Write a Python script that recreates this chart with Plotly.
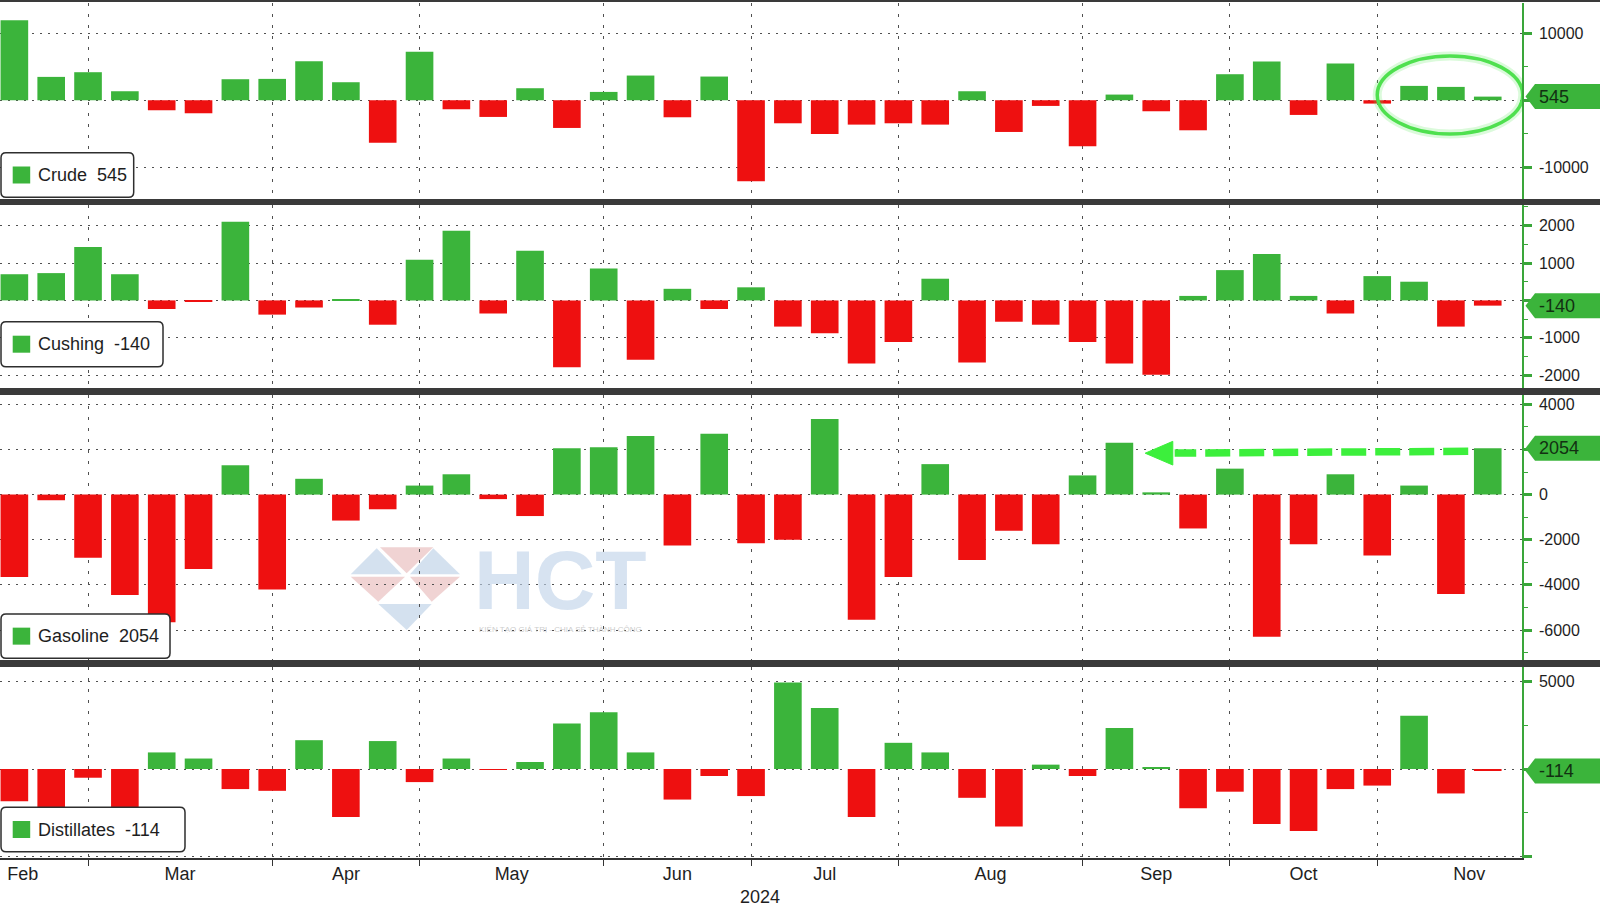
import pandas as pd
import plotly.graph_objects as go
from plotly.subplots import make_subplots

# ---------------- data (weekly EIA inventory changes, thousand barrels) ----------------
week_end = pd.date_range("2024-02-09", periods=41, freq="W-FRI")

crude = [12000, 3500, 4200, 1350, -1500, -1950, 3150, 3200, 5850, 2700,
         -6350, 7250, -1350, -2500, 1800, -4150, 1250, 3700, -2550, 3550,
         -12150, -3450, -5050, -3650, -3450, -3650, 1350, -4750, -850, -6900,
         850, -1650, -4500, 3900, 5800, -2200, 5500, -500, 2150, 2000, 545]

cushing = [700, 730, 1430, 700, -230, -40, 2100, -380, -190, 30,
           -650, 1090, 1860, -350, 1330, -1790, 850, -1590, 310, -230,
           350, -700, -880, -1690, -1110, 580, -1660, -570, -650, -1110,
           -1690, -1990, 120, 810, 1240, 120, -350, 650, 500, -700, -140]

gasoline = [-3650, -250, -2800, -4450, -5650, -3300, 1300, -4200, 700, -1150,
            -650, 400, 900, -200, -950, 2050, 2100, 2600, -2250, 2700,
            -2150, -2000, 3350, -5550, -3650, 1350, -2900, -1600, -2200, 850,
            2300, 100, -1500, 1150, -6300, -2200, 900, -2700, 400, -4400, 2054]

distillates = [-1850, -4000, -500, -4150, 950, 600, -1150, -1250, 1650, -2750,
               1600, -750, 600, -50, 400, 2600, 3250, 950, -1750, -400,
               -1550, 4950, 3500, -2750, 1500, 950, -1650, -3300, 250, -400,
               2350, 100, -2250, -1300, -3150, -3550, -1150, -950, 3050, -1400, -114]

series_names = ["Crude", "Cushing", "Gasoline", "Distillates"]
series_vals = [crude, cushing, gasoline, distillates]

tick_vals = [[-10000, 0, 10000],
             [-2000, -1000, 0, 1000, 2000],
             [-6000, -4000, -2000, 0, 2000, 4000],
             [-5000, 0, 5000]]
tick_text = [["-10000", "", "10000"],
             ["-2000", "-1000", "", "1000", "2000"],
             ["-6000", "-4000", "-2000", "0", "", "4000"],
             ["", "", "5000"]]
minor_dtick = [5000, 500, 1000, 2500]
year_label = "2024"
arrow_target_week = 30  # gasoline: week the arrow points back to

# ---------------- styling / layout constants ----------------
GREEN = "#3bb43b"
RED = "#ee1010"
AX_GREEN = "#3aa63a"
GRID = "#505050"
FONT = "Liberation Sans, Arial, sans-serif"
W, H = 1600, 906
PLOT_R = 1522
PLOT_T, PLOT_B = 3, 858
PANEL_PX = [(3, 199), (205, 388), (395, 660), (667, 858)]
Y_RANGES = [(-14794, 14569), (-2342, 2551), (-7328, 4413), (-5097, 5842)]
LEGEND_PX = [(1, 133.7, 152.7, 197.3), (1, 163, 321.7, 366.7),
             (1, 170, 614, 658.3), (1, 185, 807.3, 851.7)]
X_RANGE = [-0.39, 40.93]
LABEL_EDGE_PAD = 0.62  # keep month labels this far inside the left edge


def pxx(p):
    return p / PLOT_R


def pxy(p):
    return (PLOT_B - p) / (PLOT_B - PLOT_T)


def val_to_px(k, v):
    top, bot = PANEL_PX[k]
    lo, hi = Y_RANGES[k]
    return top + (hi - v) / (hi - lo) * (bot - top)


def round_rect(x0, x1, y0, y1, r=5):
    pts = [
        ("M", x0 + r, y0), ("L", x1 - r, y0), ("Q", x1, y0, x1, y0 + r),
        ("L", x1, y1 - r), ("Q", x1, y1, x1 - r, y1), ("L", x0 + r, y1),
        ("Q", x0, y1, x0, y1 - r), ("L", x0, y0 + r), ("Q", x0, y0, x0 + r, y0),
    ]
    s = ""
    for p in pts:
        if p[0] == "Q":
            s += f"Q{pxx(p[1]):.5f},{pxy(p[2]):.5f} {pxx(p[3]):.5f},{pxy(p[4]):.5f} "
        else:
            s += f"{p[0]}{pxx(p[1]):.5f},{pxy(p[2]):.5f} "
    return s + "Z"


def poly(points):
    s = "M" + " L".join(f"{pxx(x):.5f},{pxy(y):.5f}" for x, y in points)
    return s + " Z"


# x positions (weekly index) and month gridlines / labels
n = len(week_end)
xi = list(range(n))
all_fri = pd.date_range("2024-01-05", "2024-12-27", freq="W-FRI")
pos = pd.Series([(d - week_end[0]).days // 7 for d in all_fri], index=all_fri)
month_end = pos.groupby([pos.index.year, pos.index.month]).max()
month_names = [pd.Timestamp(year=y, month=m, day=1).strftime("%b") for (y, m) in month_end.index]
grid_pos = [int(p) for p in month_end.values if X_RANGE[0] < p < X_RANGE[1]]
label_pos, label_txt = [], []
me = list(month_end.values)
for i in range(1, len(me)):
    mid = (me[i - 1] + me[i]) / 2
    if X_RANGE[0] <= mid <= X_RANGE[1]:
        label_pos.append(max(mid, X_RANGE[0] + LABEL_EDGE_PAD))
        label_txt.append(month_names[i])

# ---------------- figure ----------------
fig = make_subplots(rows=4, cols=1, shared_xaxes=True, vertical_spacing=0.01)

for k, vals in enumerate(series_vals):
    fig.add_trace(go.Bar(
        x=xi, y=vals, width=0.75,
        marker=dict(color=[GREEN if v >= 0 else RED for v in vals], line=dict(width=0)),
        showlegend=False, hoverinfo="skip"), row=k + 1, col=1)

for k in range(4):
    top, bot = PANEL_PX[k]
    yname = "yaxis" if k == 0 else f"yaxis{k + 1}"
    fig.layout[yname].update(
        domain=[pxy(bot), pxy(top)], range=list(Y_RANGES[k]), side="right",
        tickmode="array", tickvals=tick_vals[k], ticktext=tick_text[k],
        ticks="outside", ticklen=8, tickwidth=2.5, tickcolor=AX_GREEN,
        showline=True, linecolor=AX_GREEN, linewidth=1.5,
        showgrid=True, gridcolor=GRID, griddash="2px,6px", gridwidth=1.2,
        zeroline=False, ticklabelstandoff=4, automargin=False,
        tickfont=dict(family=FONT, size=16, color="#1e1e1e"),
        minor=dict(dtick=minor_dtick[k], tick0=0, ticks="outside", ticklen=4,
                   tickwidth=1, tickcolor=AX_GREEN, showgrid=False),
        fixedrange=True)
    xname = "xaxis" if k == 0 else f"xaxis{k + 1}"
    if k < 3:
        fig.layout[xname].update(
            range=X_RANGE, tickmode="array", tickvals=grid_pos, showticklabels=False,
            ticks="", showgrid=True, gridcolor=GRID, griddash="3px,8px", gridwidth=1.2,
            zeroline=False, showline=False)
    else:
        fig.layout[xname].update(
            range=X_RANGE, tickmode="array", tickvals=label_pos, ticktext=label_txt,
            ticks="", showgrid=False, zeroline=False, automargin=False,
            showline=True, linecolor="#333333", linewidth=1.5,
            ticklabeloverflow="allow",
            tickfont=dict(family=FONT, size=18, color="#1e1e1e"), ticklabelstandoff=-1,
            minor=dict(tickmode="array", tickvals=grid_pos, ticks="outside", ticklen=6,
                       tickcolor="#333333", tickwidth=1.2, showgrid=True,
                       gridcolor=GRID, griddash="3px,8px", gridwidth=1.2))

shapes = []
annotations = []

# watermark (below everything)
wm_blue = "rgba(170,196,224,0.5)"
wm_pink = "rgba(226,168,168,0.5)"
for pts, col in [
    ([(350.7, 574.3), (376.7, 548.3), (401.7, 574.3)], wm_blue),
    ([(380, 547.3), (433.3, 547.3), (406.7, 573.3)], wm_pink),
    ([(410, 574.3), (460, 574.3), (433.3, 548.3)], wm_blue),
    ([(350.7, 576.7), (405, 576.7), (378.3, 601.7)], wm_pink),
    ([(410, 576.7), (460, 576.7), (431.7, 601.7)], wm_pink),
    ([(378.3, 604), (431.7, 604), (406.7, 630)], wm_blue),
]:
    shapes.append(dict(type="path", xref="paper", yref="paper", path=poly(pts),
                       fillcolor=col, line=dict(width=0), layer="below"))
annotations.append(dict(x=pxx(560), y=pxy(580), xref="paper", yref="paper", text="<b>HCT</b>",
                        xanchor="center", yanchor="middle", showarrow=False,
                        font=dict(family="Liberation Sans, Arial", size=84,
                                  color="rgba(190,210,232,0.62)")))
annotations.append(dict(x=pxx(560), y=pxy(629), xref="paper", yref="paper",
                        text="KIẾN TẠO GIÁ TRỊ - CHIA SẺ THÀNH CÔNG", showarrow=False,
                        xanchor="center", yanchor="middle",
                        font=dict(family=FONT, size=8, color="rgba(190,190,190,0.8)")))

# panel separators and top rule
for y0, y1 in [(199, 205), (388, 395), (660, 667)]:
    shapes.append(dict(type="rect", xref="paper", yref="paper", x0=0, x1=pxx(W),
                       y0=pxy(y1), y1=pxy(y0), fillcolor="#3a3a3a", line=dict(width=0),
                       layer="above"))
shapes.append(dict(type="rect", xref="paper", yref="paper", x0=0, x1=pxx(W),
                   y0=pxy(2), y1=pxy(0), fillcolor="#3a3a3a", line=dict(width=0)))

# legends and value boxes
for k in range(4):
    name = series_names[k]
    last = series_vals[k][-1]
    x0, x1, y0, y1 = LEGEND_PX[k]
    shapes.append(dict(type="path", xref="paper", yref="paper",
                       path=round_rect(x0, x1, y0, y1, 5), fillcolor="white",
                       line=dict(color="#2e2e2e", width=1.5), layer="above"))
    cy = (y0 + y1) / 2
    shapes.append(dict(type="rect", xref="paper", yref="paper", x0=pxx(12.7), x1=pxx(30.2),
                       y0=pxy(cy + 8.5), y1=pxy(cy - 8.5), fillcolor=GREEN,
                       line=dict(width=0), layer="above"))
    annotations.append(dict(x=pxx(35.5), y=pxy(cy), xref="paper", yref="paper",
                            xanchor="left", yanchor="middle", showarrow=False,
                            text=f"{name}\u00a0\u00a0{last}",
                            font=dict(family=FONT, size=18, color="#1e1e1e")))
    vy = val_to_px(k, last)
    shapes.append(dict(type="path", xref="paper", yref="paper",
                       path=poly([(1525.5, vy), (1535, vy - 12.5), (1600, vy - 12.5),
                                  (1600, vy + 12.5), (1535, vy + 12.5)]),
                       fillcolor=GREEN, line=dict(width=0), layer="above"))
    annotations.append(dict(x=pxx(1536.5), y=pxy(vy), xref="paper", yref="paper",
                            xanchor="left", yanchor="middle", showarrow=False,
                            text=str(last), font=dict(family=FONT, size=18, color="#123012")))

# crude: highlight ellipse around latest weeks
for w, col in [(9, "rgba(90,230,90,0.22)"), (3.5, "#4fe04f")]:
    shapes.append(dict(type="circle", xref="x", yref="y", x0=n - 1 - 3.0, x1=n - 1 + 0.95,
                       y0=-5050, y1=6630, line=dict(color=col, width=w),
                       fillcolor="rgba(0,0,0,0)", layer="above"))

# gasoline: dashed arrow from latest week back to comparable week
ARROW = "#3cef3c"
ay = 1880
shapes.append(dict(type="line", xref="x3", yref="y3", x0=n - 1 - 0.53, x1=arrow_target_week + 1.5,
                   y0=ay + 40, y1=ay - 40, line=dict(color=ARROW, width=7.5, dash="25px,9px"),
                   layer="above"))
shapes.append(dict(type="path", xref="x3", yref="y3",
                   path=(f"M{arrow_target_week + 0.7},{ay - 45} L{arrow_target_week + 1.45},{ay + 480} "
                         f"L{arrow_target_week + 1.45},{ay - 570} Z"),
                   fillcolor=ARROW, line=dict(color=ARROW, width=1), layer="above"))

# year label
annotations.append(dict(x=(n - 1) / 2, y=pxy(897), xref="x4", yref="paper", text=year_label,
                        showarrow=False, xanchor="center", yanchor="middle", xshift=9,
                        font=dict(family=FONT, size=18, color="#1e1e1e")))

fig.update_layout(
    width=W, height=H, margin=dict(l=0, r=W - PLOT_R, t=PLOT_T, b=H - PLOT_B, autoexpand=False),
    paper_bgcolor="white", plot_bgcolor="white", barmode="relative",
    shapes=shapes, annotations=annotations, showlegend=False,
    font=dict(family=FONT, color="#1e1e1e"))

fig.write_html("out.html", config={"displayModeBar": False},
               post_script="document.body.style.margin='0';document.body.style.overflow='hidden';")
